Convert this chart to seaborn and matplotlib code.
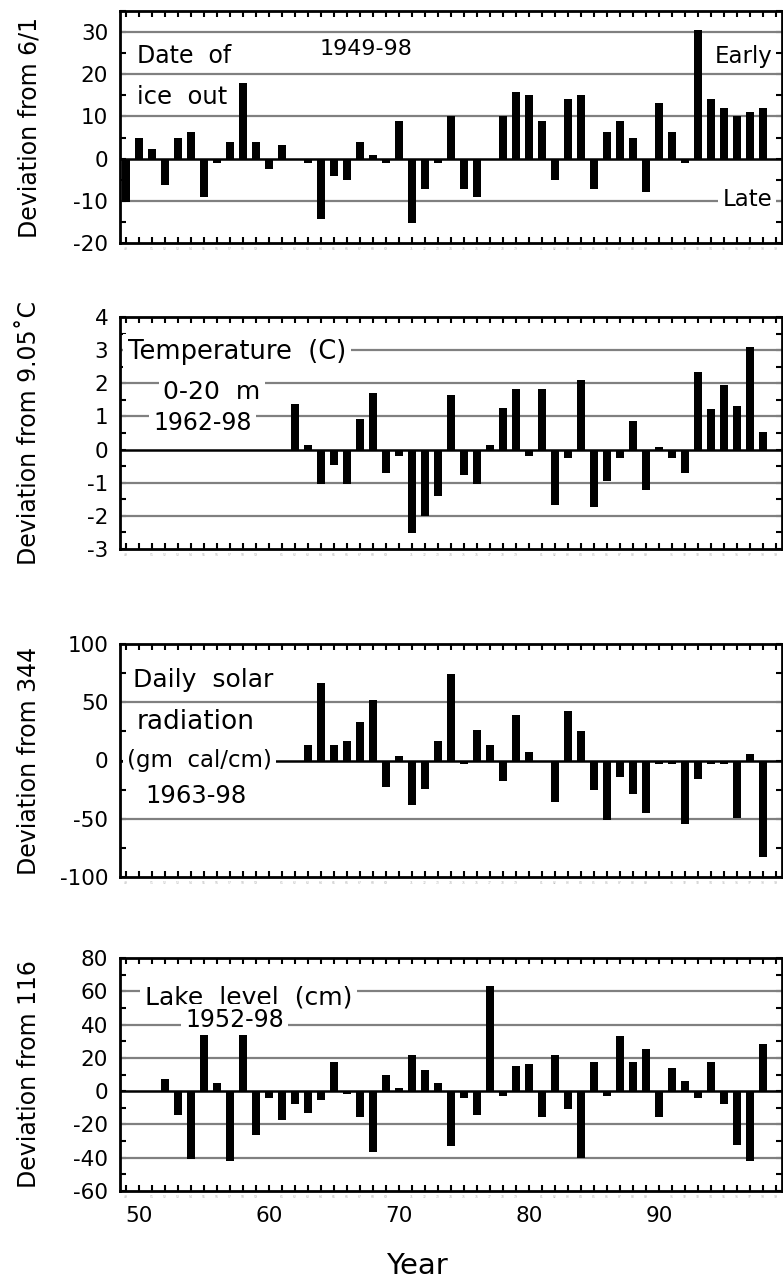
import matplotlib
matplotlib.use("Agg")
import matplotlib.pyplot as plt
import seaborn as sns
import pandas as pd
from matplotlib.ticker import MultipleLocator, FixedLocator

# ---------------- data ----------------
ice_years = list(range(1949, 1999))
ice_out = [-10.2, 4.9, 2.3, -6.25, 4.9, 6.3, -9.1, -1.0, 4.0, 18.0,
           4.0, -2.5, 3.3, 0.0, -1.0, -14.2, -4.1, -5.1, 4.0, 0.9,
           -1.0, 8.9, -15.2, -7.2, -1.0, 10.1, -7.2, -9.1, 0.0, 10.1,
           15.9, 15.0, 8.9, -5.1, 14.1, 15.0, -7.2, 6.3, 8.9, 4.9,
           -8.0, 13.2, 6.3, -1.0, 30.6, 14.1, 12.0, 10.1, 11.0, 12.0]

temp_years = list(range(1962, 1999))
temperature = [1.38, 0.13, -1.04, -0.47, -1.04, 0.93, 1.72, -0.70, -0.20, -2.52,
               -2.01, -1.39, 1.66, -0.76, -1.05, 0.14, 1.26, 1.83, -0.19, 1.83,
               -1.66, -0.26, 2.11, -1.73, -0.94, -0.26, 0.87, -1.21, 0.08, -0.26,
               -0.70, 2.35, 1.23, 1.95, 1.31, 3.08, 0.54]

solar_years = list(range(1963, 1999))
solar = [13.4, 66.2, 13.4, 16.8, 32.7, 51.7, -22.7, 3.7, -38.1, -24.4,
         16.8, 73.9, -3.4, 26.1, 13.4, -17.9, 38.9, 7.4, 0.0, -35.8,
         42.3, 25.3, -25.6, -51.1, -14.5, -29.0, -45.2, -3.4, -3.4, -54.5,
         -16.2, -3.4, -3.4, -49.4, 5.7, -83.2]

lake_years = list(range(1952, 1999))
lake = [7.2, -14.2, -40.6, 33.6, 4.8, -41.8, 33.6, -26.2, -4.0, -17.2,
        -7.6, -13.0, -5.2, 17.4, -1.6, -15.4, -36.4, 10.0, 1.6, 21.6,
        12.6, 4.8, -32.8, -4.0, -14.2, 63.0, -2.8, 15.0, 16.2, -15.4,
        21.6, -10.6, -40.0, 17.4, -2.8, 33.0, 17.4, 25.2, -15.4, 13.8,
        5.8, -4.0, 17.4, -7.6, -32.2, -41.8, 28.2]

y_labels = ["Deviation from 6/1", "Deviation from 9.05˚C",
            "Deviation from 344", "Deviation from 116"]
y_limits = [(-20, 35), (-3, 4), (-100, 100), (-60, 80)]
y_major = [[-20, -10, 0, 10, 20, 30],
           [-3, -2, -1, 0, 1, 2, 3, 4],
           [-100, -50, 0, 50, 100],
           [-60, -40, -20, 0, 20, 40, 60, 80]]
y_minor_step = [5, 0.5, 25, 10]
grid_vals = [[30, 20, 10, -10],
             [3, 2, 1, -1, -2],
             [50, -50],
             [60, 40, 20, -20, -40]]
x_major = [1950, 1960, 1970, 1980, 1990]
x_major_labels = ["50", "60", "70", "80", "90"]
all_years = list(range(1949, 2000))

# panel annotations: (text, x, y, fontsize, ha, white box)
annotations = [
    [("Date  of", 1949.85, 22.6, 17, "left", False),
     ("ice  out", 1949.85, 13.0, 17.5, "left", False),
     ("1949-98", 1963.9, 24.6, 16, "left", False),
     ("Early", 1998.7, 22.7, 16.5, "right", False),
     ("Late", 1998.7, -11.3, 16.5, "right", True)],
    [("Temperature  (C)", 1949.15, 2.73, 18.5, "left", True),
     ("0-20  m", 1951.85, 1.54, 18, "left", True),
     ("1962-98", 1951.08, 0.60, 17, "left", True)],
    [("Daily  solar", 1949.54, 62.8, 18, "left", False),
     ("radiation", 1949.85, 27.3, 19, "left", False),
     ("(gm  cal/cm)", 1949.08, -5.4, 16.5, "left", True),
     ("1963-98", 1950.46, -36.6, 17.5, "left", False)],
    [("Lake  level  (cm)", 1950.46, 52.1, 18, "left", True),
     ("1952-98", 1953.54, 38.4, 17, "left", True)],
]

# ---------------- figure ----------------
sns.set_theme(style="white")
plt.rcParams["font.family"] = ["DejaVu Sans"]

W, H = 783, 1285
fig = plt.figure(figsize=(W / 100, H / 100), dpi=100)

panel_px = [(11, 243), (317, 549), (644, 877), (958, 1191)]
left_px, right_px = 120, 782

series = [(ice_years, ice_out), (temp_years, temperature),
          (solar_years, solar), (lake_years, lake)]

for i, ((yrs, vals), (top, bot)) in enumerate(zip(series, panel_px)):
    ax = fig.add_axes([left_px / W, 1 - bot / H,
                       (right_px - left_px) / W, (bot - top) / H])
    df = pd.DataFrame({"year": yrs, "value": vals})
    sns.barplot(data=df, x="year", y="value", native_scale=True,
                color="black", width=0.6, errorbar=None, ax=ax,
                saturation=1, edgecolor="black", linewidth=0)
    for p in ax.patches:
        p.set_zorder(5)
        p.set_facecolor("black")

    ax.set_xlim(1948.54, 1999.46)
    ax.set_ylim(*y_limits[i])

    for g in grid_vals[i]:
        ax.axhline(g, color="#808080", lw=1.6, zorder=1)
    ax.axhline(0, color="black", lw=1.8, zorder=1)

    # ticks
    ax.set_yticks(y_major[i])
    ax.set_yticklabels([str(v) for v in y_major[i]])
    ax.yaxis.set_minor_locator(MultipleLocator(y_minor_step[i]))
    ax.xaxis.set_major_locator(FixedLocator(x_major))
    ax.xaxis.set_minor_locator(FixedLocator(all_years))
    ax.set_xticklabels([f"{y % 100:02d}" for y in all_years], minor=True)
    if i == 3:
        ax.set_xticklabels(x_major_labels)
    else:
        ax.set_xticklabels([])
    ax.tick_params(axis="both", which="both", direction="in",
                   top=True, right=True, bottom=True, left=True,
                   length=4, width=1.5, color="black")
    ax.tick_params(axis="y", which="major", labelsize=15.5, pad=8.5,
                   labelcolor="black")
    ax.tick_params(axis="x", which="major", labelsize=15.5, pad=11,
                   labelcolor="black")
    ax.tick_params(axis="x", which="minor", labelsize=2.2, pad=3,
                   labelcolor="#b0b0b0")

    for s in ax.spines.values():
        s.set_visible(True)
        s.set_color("black")
        s.set_linewidth(2)

    ax.set_xlabel("")
    ax.set_ylabel(y_labels[i], fontsize=17, color="black")
    ax.yaxis.set_label_coords(-0.119, 0.5)

    for (txt, x, y, fs, ha, box) in annotations[i]:
        kw = dict(fontsize=fs, ha=ha, va="baseline", color="black", zorder=3)
        if box:
            kw["bbox"] = dict(boxstyle="square,pad=0.18", fc="white", ec="none")
        ax.text(x, y, txt, **kw)

fig.text(417 / W, 1 - 1266 / H, "Year", fontsize=21, ha="center",
         va="center", color="black")

fig.savefig("out.png", dpi=100)
